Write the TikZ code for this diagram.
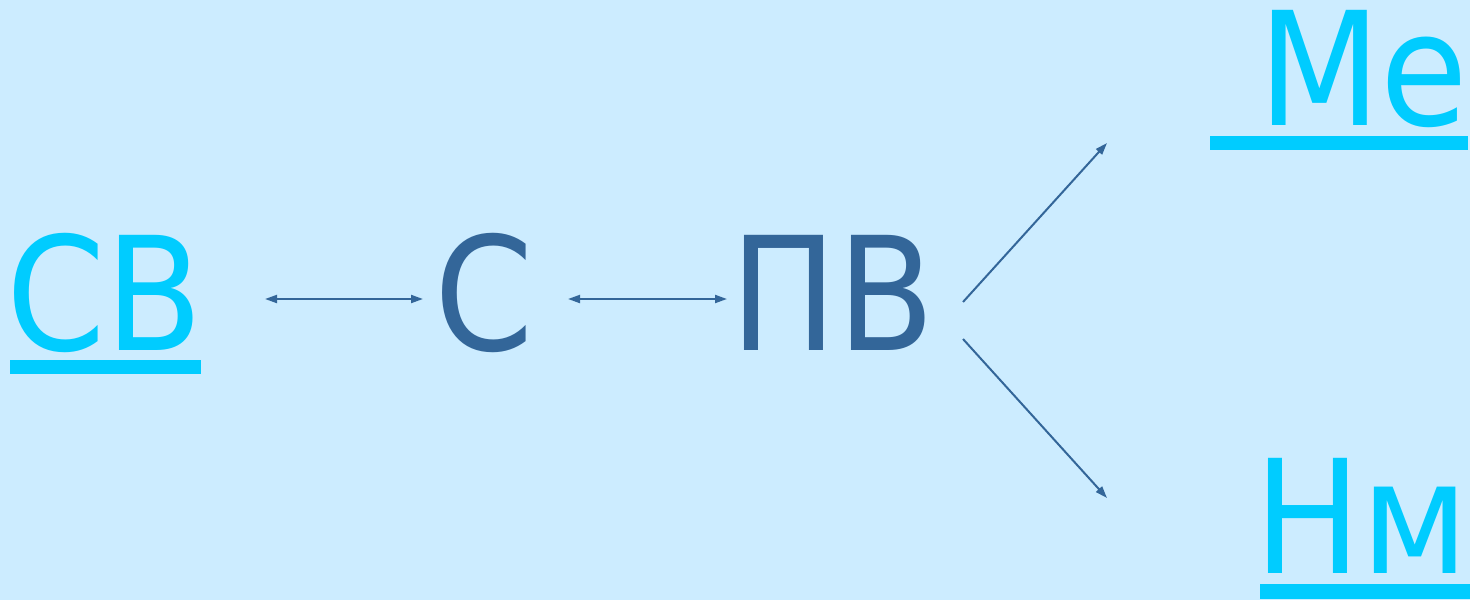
\documentclass[tikz,border=0pt]{standalone}
\usepackage{fontspec}
\setmainfont{DejaVu Sans Condensed}
\usetikzlibrary{arrows.meta}
\definecolor{bgblue}{HTML}{CCECFF}
\definecolor{cyantext}{HTML}{00CCFF}
\definecolor{darktext}{HTML}{336699}
\tikzset{
  bigtext/.style={inner sep=0pt, anchor=base west, font=\fontsize{158}{158}\selectfont},
  lighttext/.style={bigtext, text=cyantext},
  darkword/.style={bigtext, text=darktext},
  uline/.style={fill=cyantext, draw=none},
  link/.style={draw=darktext, line width=2pt,
    -{Triangle[length=12pt,width=8pt]}},
  duallink/.style={link, {Triangle[length=12pt,width=8pt]}-{Triangle[length=12pt,width=8pt]}}
}
\begin{document}
\begin{tikzpicture}[x=1pt, y=-1pt]
  \useasboundingbox (0,0) rectangle (1470,600);
  \fill[bgblue] (0,0) rectangle (1470,600);

  % chain of words
  \node[lighttext] (sv) at (6,350) {СВ};
  \node[darkword]  (s)  at (434,350) {С};
  \node[darkword]  (pv) at (730,350) {ПВ};
  \node[lighttext] (me) at (1258,125) {Ме};
  \node[lighttext] (nm) at (1254,573) {Нм};

  % underlines of the light words
  \fill[uline] (10,360) rectangle (201,374);
  \fill[uline] (1210,136) rectangle (1468,150);
  \fill[uline] (1260,584) rectangle (1470,599);

  % connectors
  \coordinate (svR) at (265,299);
  \coordinate (sL)  at (423,299);
  \coordinate (sR)  at (568,299);
  \coordinate (pvL) at (727,299);
  \coordinate (pvUp) at (963,302);
  \coordinate (pvDn) at (963,339);
  \coordinate (meIn) at (1107,143);
  \coordinate (nmIn) at (1107,498);
  \draw[duallink] (svR) -- (sL);
  \draw[duallink] (sR) -- (pvL);
  \draw[link] (pvUp) -- (meIn);
  \draw[link] (pvDn) -- (nmIn);
\end{tikzpicture}
\end{document}
